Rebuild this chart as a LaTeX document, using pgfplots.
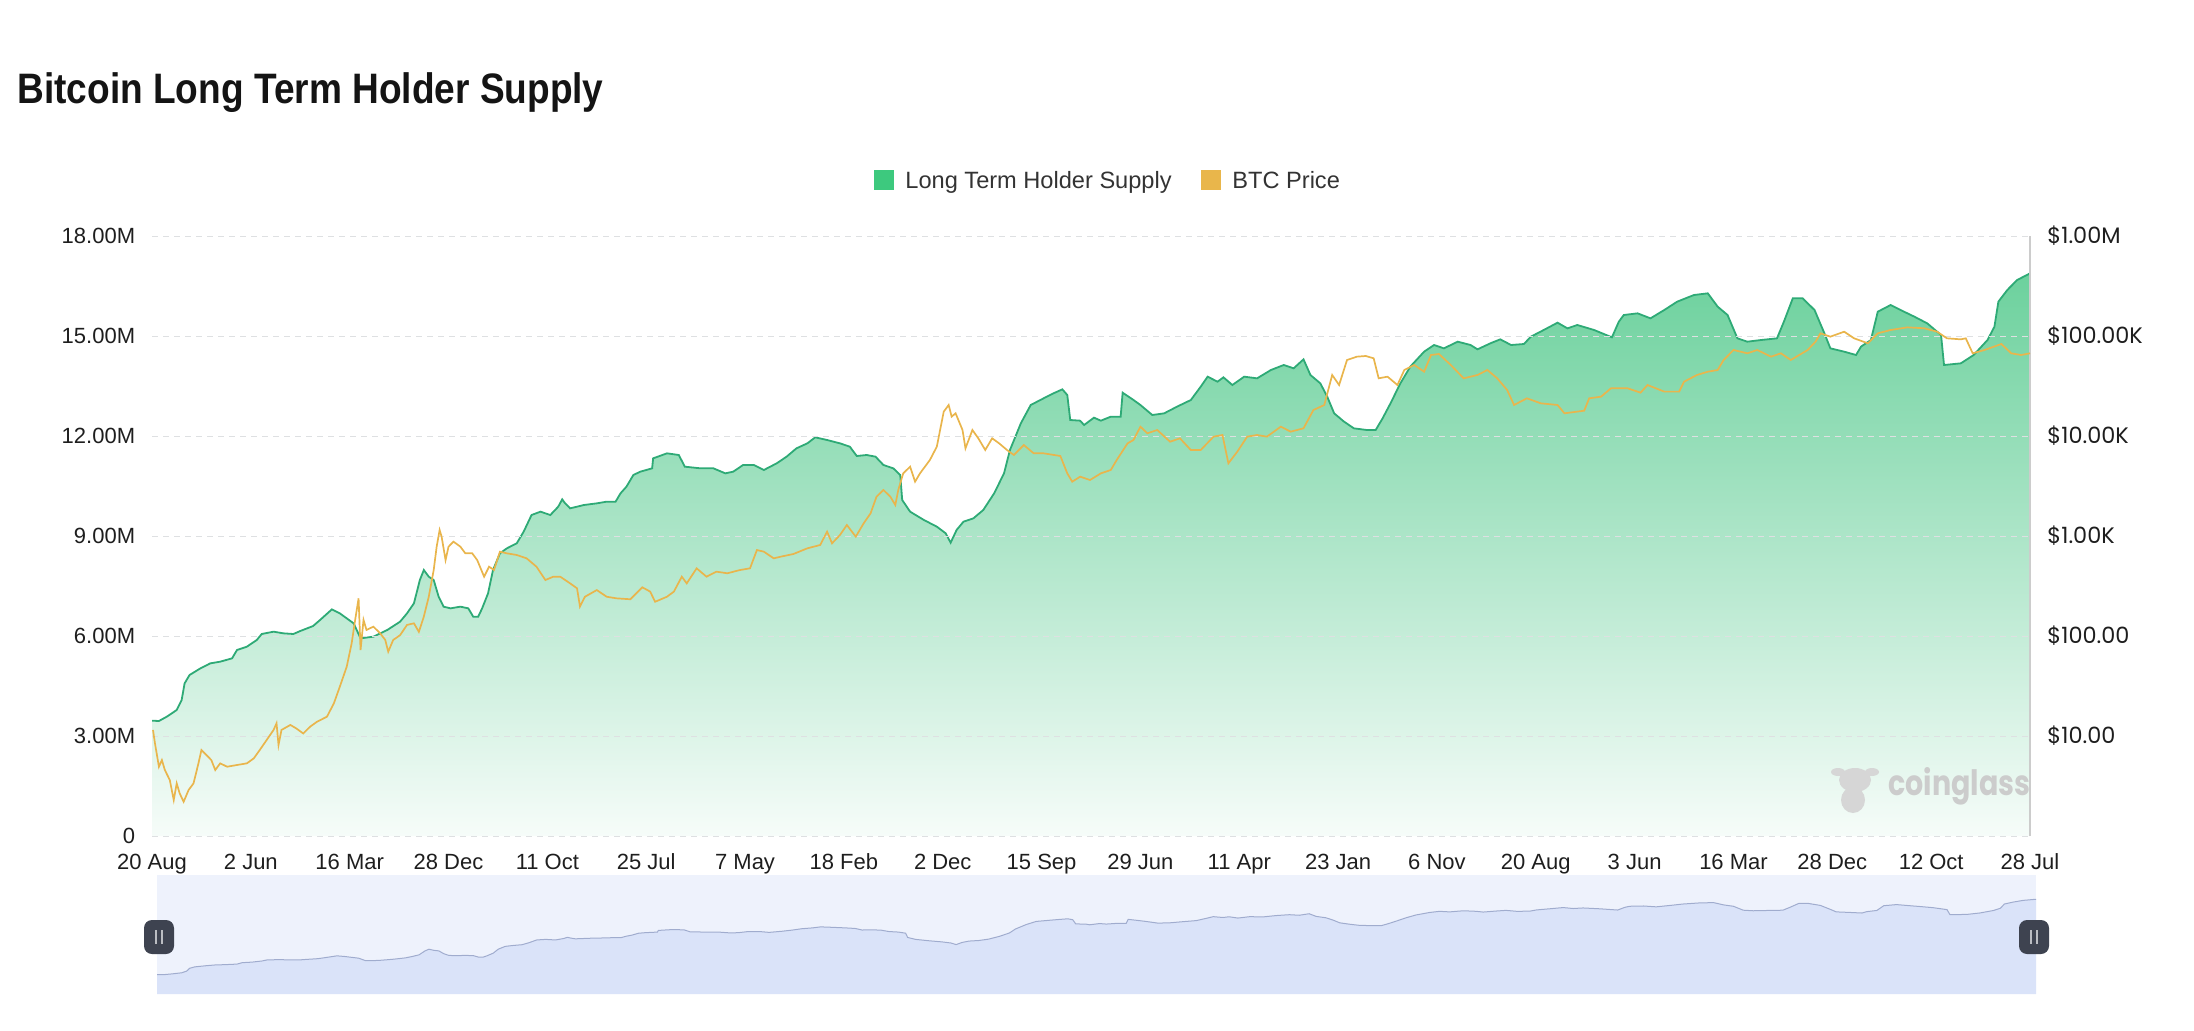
\documentclass[border=0pt]{standalone}
\usepackage{pgfplots}
\pgfplotsset{compat=1.18}
\usepackage{pgfplotstable}
\usepackage{graphicx}
\usepackage{fontspec}
\setmainfont{Liberation Sans}
\newfontfamily\poppins{Poppins}

\definecolor{ltharea}{RGB}{108,209,157}
\definecolor{lthbot}{RGB}{246,252,249}
\definecolor{lthline}{RGB}{46,170,118}
\definecolor{btc}{RGB}{233,181,76}
\definecolor{legG}{RGB}{61,201,126}
\definecolor{legY}{RGB}{233,182,75}
\definecolor{gridc}{RGB}{222,224,226}
\definecolor{txt}{RGB}{30,30,30}
\definecolor{navbg}{RGB}{238,242,252}
\definecolor{navarea}{RGB}{218,227,249}
\definecolor{navline}{RGB}{160,172,206}
\definecolor{handle}{RGB}{62,67,80}

\pgfplotstableread{
x y
0.00 3.46
0.07 3.45
0.15 3.58
0.25 3.78
0.30 4.08
0.33 4.58
0.38 4.83
0.49 5.03
0.59 5.18
0.69 5.23
0.81 5.33
0.86 5.58
0.96 5.68
1.06 5.88
1.11 6.06
1.23 6.13
1.33 6.08
1.43 6.06
1.50 6.15
1.63 6.30
1.70 6.48
1.82 6.80
1.90 6.68
2.04 6.38
2.11 5.93
2.24 5.98
2.38 6.18
2.51 6.43
2.58 6.68
2.65 6.98
2.71 7.68
2.75 7.98
2.80 7.78
2.85 7.68
2.90 7.18
2.95 6.88
3.02 6.83
3.12 6.88
3.20 6.83
3.25 6.58
3.30 6.58
3.34 6.83
3.40 7.28
3.45 7.98
3.52 8.48
3.59 8.63
3.69 8.78
3.76 9.13
3.84 9.63
3.93 9.73
4.03 9.63
4.11 9.88
4.15 10.10
4.18 9.98
4.23 9.83
4.37 9.93
4.50 9.98
4.60 10.03
4.69 10.03
4.74 10.28
4.80 10.48
4.87 10.83
4.94 10.93
5.06 11.03
5.07 11.33
5.21 11.48
5.33 11.43
5.39 11.08
5.55 11.03
5.68 11.03
5.80 10.88
5.88 10.93
5.98 11.13
6.09 11.13
6.19 10.98
6.32 11.18
6.42 11.38
6.52 11.63
6.63 11.78
6.71 11.96
6.83 11.88
6.96 11.78
7.06 11.68
7.13 11.40
7.23 11.43
7.32 11.38
7.40 11.13
7.50 11.03
7.57 10.83
7.59 10.08
7.67 9.73
7.81 9.48
7.94 9.28
8.03 9.08
8.08 8.80
8.14 9.18
8.21 9.43
8.31 9.53
8.41 9.78
8.52 10.28
8.62 10.88
8.68 11.58
8.79 12.38
8.89 12.93
9.02 13.13
9.12 13.28
9.21 13.40
9.26 13.23
9.29 12.48
9.39 12.46
9.43 12.33
9.53 12.55
9.60 12.46
9.70 12.58
9.80 12.58
9.82 13.30
9.93 13.08
10.00 12.93
10.12 12.63
10.24 12.68
10.37 12.88
10.51 13.08
10.61 13.48
10.68 13.78
10.78 13.63
10.84 13.76
10.93 13.53
11.05 13.78
11.18 13.73
11.32 13.98
11.45 14.13
11.55 14.03
11.65 14.30
11.72 13.83
11.82 13.58
11.89 13.18
11.96 12.68
12.06 12.43
12.16 12.23
12.29 12.18
12.38 12.18
12.45 12.53
12.53 12.98
12.63 13.58
12.73 14.08
12.87 14.53
12.97 14.73
13.07 14.63
13.21 14.83
13.34 14.73
13.41 14.60
13.54 14.78
13.64 14.90
13.75 14.73
13.88 14.76
13.95 14.98
14.08 15.18
14.22 15.40
14.32 15.23
14.42 15.33
14.59 15.18
14.77 14.96
14.84 15.43
14.89 15.63
15.03 15.68
15.16 15.53
15.30 15.78
15.43 16.03
15.60 16.23
15.74 16.28
15.84 15.88
15.94 15.63
16.04 14.93
16.14 14.83
16.28 14.88
16.44 14.93
16.51 15.43
16.60 16.13
16.70 16.13
16.82 15.78
16.92 15.08
16.98 14.63
17.12 14.53
17.24 14.43
17.29 14.68
17.39 14.88
17.46 15.73
17.59 15.93
17.69 15.78
17.83 15.58
17.96 15.38
18.10 15.03
18.13 14.13
18.30 14.18
18.43 14.43
18.57 14.88
18.64 15.28
18.68 16.03
18.77 16.38
18.87 16.68
19.00 16.88
}\lth

\pgfplotstableread{
x p
0.01 11.5
0.03 8.45
0.07 4.93
0.10 5.75
0.13 4.57
0.18 3.63
0.22 2.29
0.25 3.36
0.28 2.67
0.32 2.20
0.37 2.88
0.42 3.36
0.47 5.33
0.50 7.24
0.55 6.46
0.60 5.75
0.64 4.57
0.69 5.33
0.76 4.93
0.86 5.13
0.96 5.33
1.03 5.98
1.09 7.24
1.16 9.12
1.23 11.5
1.26 13.4
1.28 8.13
1.31 11.5
1.40 12.9
1.46 11.9
1.53 10.6
1.60 12.4
1.67 13.9
1.77 15.6
1.84 21.2
1.90 31.1
1.97 49.3
2.02 84.5
2.05 134
2.09 238
2.11 72.4
2.14 145
2.17 115
2.24 124
2.31 106
2.36 91.2
2.39 69.7
2.44 91.2
2.51 102
2.58 129
2.65 134
2.70 110
2.75 156
2.80 247
2.85 457
2.88 782
2.91 1148
2.93 985
2.97 575
3.00 782
3.05 878
3.12 782
3.17 671
3.24 671
3.29 575
3.36 392
3.41 493
3.46 457
3.52 697
3.59 671
3.69 646
3.79 598
3.89 493
3.98 363
4.06 392
4.13 392
4.23 336
4.30 300
4.33 197
4.38 247
4.50 288
4.60 247
4.70 238
4.84 233
4.96 307
5.04 278
5.09 220
5.21 247
5.28 278
5.36 392
5.41 336
5.51 475
5.61 392
5.71 440
5.82 424
5.95 457
6.05 475
6.12 724
6.19 697
6.29 598
6.36 621
6.49 661
6.63 753
6.76 813
6.83 1105
6.88 845
6.96 1023
7.03 1288
7.12 985
7.20 1339
7.27 1686
7.33 2473
7.40 2884
7.47 2473
7.52 2042
7.55 2884
7.60 4233
7.67 4932
7.72 3493
7.77 4233
7.87 5754
7.94 7822
8.01 17520
8.06 20418
8.09 15604
8.13 16866
8.20 11482
8.23 7530
8.30 11482
8.36 9480
8.43 7244
8.50 9480
8.57 8450
8.65 7244
8.72 6457
8.82 8128
8.92 6714
9.02 6714
9.19 6310
9.26 4233
9.31 3493
9.39 3920
9.49 3631
9.60 4233
9.70 4571
9.76 5754
9.87 8450
9.93 9120
10.00 12400
10.07 10641
10.17 11482
10.30 8770
10.40 9480
10.51 7244
10.61 7244
10.74 9850
10.83 10233
10.89 5333
10.98 6970
11.08 9850
11.18 10233
11.28 9850
11.42 12400
11.52 11050
11.65 11940
11.75 18197
11.86 20418
11.94 40738
12.01 32359
12.09 57544
12.19 62130
12.28 63096
12.36 59800
12.41 37740
12.50 39200
12.60 32359
12.67 45709
12.77 51286
12.87 43950
12.94 64565
13.02 66069
13.14 51286
13.27 37740
13.41 40738
13.51 45709
13.61 37740
13.71 28840
13.78 20418
13.91 23820
14.05 21230
14.22 20418
14.29 16866
14.49 17910
14.54 23820
14.66 24730
14.76 29960
14.93 29960
15.06 27130
15.13 32359
15.30 27770
15.45 27770
15.50 34930
15.63 40738
15.74 43950
15.84 45709
15.90 57544
16.00 72444
16.14 67140
16.24 72444
16.38 62130
16.48 67140
16.58 57544
16.75 72444
16.83 87700
16.88 106400
16.98 98500
17.12 110400
17.22 94800
17.36 84500
17.46 106400
17.59 114800
17.76 122100
17.93 119400
18.06 110400
18.16 94800
18.30 92600
18.35 94800
18.42 67140
18.54 72444
18.71 83180
18.81 67140
18.91 64565
19.00 67140
}\btcprice

\begin{document}
\begin{tikzpicture}[x=0.5pt,y=0.5pt]
\path[use as bounding box] (0,0) rectangle (2194,1030);

% title
\node[anchor=base west, inner sep=0pt, text=black!92] at (17,926)
  {\fontsize{21.3}{25}\selectfont\bfseries\scalebox{0.87}[1]{Bitcoin Long Term Holder Supply}};

% legend
\fill[legG] (874,840) rectangle (894,860);
\node[anchor=base west, inner sep=0pt, text=black!80] at (905,841.5)
  {\fontsize{11.8}{14}\selectfont Long Term Holder Supply};
\fill[legY] (1201,840) rectangle (1221,860);
\node[anchor=base west, inner sep=0pt, text=black!80] at (1232,841.5)
  {\fontsize{11.8}{14}\selectfont BTC Price};

% main axis (supply)
\begin{axis}[at={(76pt,97pt)}, anchor=south west,
  width=939pt, height=300pt, scale only axis,
  xmin=0, xmax=19, ymin=0, ymax=18,
  axis line style={draw=none}, tick style={draw=none}, major tick length=0pt,
  ytick={0,3,6,9,12,15,18},
  yticklabels={0,3.00M,6.00M,9.00M,12.00M,15.00M,18.00M},
  xtick={0,1,...,19},
  xticklabels={20 Aug,2 Jun,16 Mar,28 Dec,11 Oct,25 Jul,7 May,18 Feb,2 Dec,15 Sep,29 Jun,11 Apr,23 Jan,6 Nov,20 Aug,3 Jun,16 Mar,28 Dec,12 Oct,28 Jul},
  ymajorgrids, major grid style={gridc, dash pattern=on 3pt off 2.5pt, line width=0.5pt},
  axis on top,
  yticklabel style={font=\fontsize{11}{13}\selectfont, text=txt, anchor=east, inner sep=0pt, xshift=-8.25pt},
  xticklabel style={font=\fontsize{11}{13}\selectfont, text=txt, anchor=base, inner sep=0pt, yshift=-16.5pt},
]
\addplot[draw=none, top color=ltharea, bottom color=lthbot] table[x=x,y=y]{\lth} \closedcycle;
\addplot[lthline, line width=0.9pt] table[x=x,y=y]{\lth};
\end{axis}

% right axis (price, log)
\begin{axis}[at={(76pt,97pt)}, anchor=south west,
  width=939pt, height=300pt, scale only axis,
  xmin=0, xmax=19, ymode=log, log basis y=10, ymin=1, ymax=1000000,
  axis x line=none, axis y line*=right,
  axis line style={draw=black!20, line width=0.6pt, -},
  tick style={draw=none}, major tick length=0pt, yminorticks=false,
  ytick={10,100,1000,10000,100000,1000000},
  yticklabels={\$10.00,\$100.00,\$1.00K,\$10.00K,\$100.00K,\$1.00M},
  yticklabel style={font=\poppins\fontsize{11.2}{13}\selectfont, text=txt, anchor=west, inner sep=0pt, xshift=8.5pt},
]
\addplot[btc, line width=0.85pt] table[x=x,y=p]{\btcprice};
\end{axis}

% watermark
\fill[black!16] (1855,250) ellipse (16 and 12);
\fill[black!16] (1838,258) ellipse (7 and 4);
\fill[black!16] (1872,258) ellipse (7 and 4);
\fill[black!16] (1853,230) ellipse (12 and 13);
\node[anchor=base west, inner sep=0pt, text=black!20] at (1888,235)
  {\resizebox{71pt}{14pt}{\poppins\bfseries coinglass}};

% navigator
\fill[navbg] (157,36) rectangle (2036,155);
\begin{axis}[at={(78.5pt,18pt)}, anchor=south west,
  width=939.5pt, height=59.5pt, scale only axis,
  xmin=0, xmax=19, ymin=0, ymax=21.2, hide axis]
\addplot[draw=none, fill=navarea] table[x=x,y=y]{\lth} \closedcycle;
\addplot[navline, line width=0.5pt] table[x=x,y=y]{\lth};
\end{axis}
\foreach \hx in {159,2034} {
  \fill[handle, rounded corners=4pt] (\hx-15,76) rectangle (\hx+15,110);
  \draw[white!65!handle, line width=0.7pt] (\hx-3,86)--(\hx-3,100) (\hx+3,86)--(\hx+3,100);
}
\end{tikzpicture}
\end{document}
